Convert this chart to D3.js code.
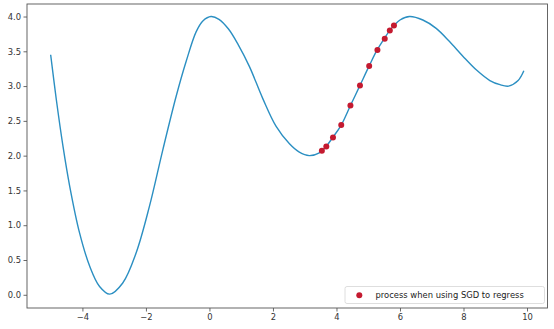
<!DOCTYPE html>
<html>
<head>
<meta charset="utf-8">
<script src="https://cdn.jsdelivr.net/npm/d3@7"></script>
<style>
  html, body { margin: 0; padding: 0; background: #fff; }
  svg { display: block; }
  text { font-family: "DejaVu Sans", sans-serif; }
</style>
</head>
<body>
<svg id="chart" width="554" height="329"></svg>
<script>
// Curve values
const curveX = [-5.0, -4.82, -4.61, -4.40, -4.09, -3.77, -3.46, -3.14, -2.73, -2.31, -1.89, -1.47, -1.05, -0.73, -0.42, -0.2, 0.05,
  0.3, 0.6, 0.9, 1.26, 1.68, 2.10, 2.52, 2.83, 3.14, 3.46, 3.67, 3.88, 4.15, 4.44, 4.74, 5.03, 5.28, 5.50, 5.68, 5.81, 6.0,
  6.30, 6.72, 7.14, 7.56, 7.98, 8.41, 8.83, 9.15, 9.42, 9.72, 9.90];
const curveY = [3.45, 2.80, 2.13, 1.56, 0.89, 0.41, 0.12, 0.01, 0.17, 0.60, 1.27, 2.08, 2.85, 3.36, 3.78, 3.94, 4.00,
  3.96, 3.82, 3.60, 3.28, 2.82, 2.42, 2.17, 2.05, 2.00, 2.04, 2.13, 2.26, 2.44, 2.72, 3.01, 3.29, 3.52, 3.68, 3.80, 3.87, 3.95,
  4.00, 3.95, 3.83, 3.64, 3.43, 3.23, 3.08, 3.02, 3.00, 3.08, 3.22];

// SGD process points
const sgdX = [3.54, 3.68, 3.89, 4.15, 4.44, 4.74, 5.03, 5.29, 5.52, 5.68, 5.81];
const sgdY = [2.07, 2.13, 2.26, 2.44, 2.72, 3.01, 3.29, 3.52, 3.68, 3.80, 3.87];

const xTicks = [-4, -2, 0, 2, 4, 6, 8, 10];
const yTicks = [0.0, 0.5, 1.0, 1.5, 2.0, 2.5, 3.0, 3.5, 4.0];
const legendLabel = "process when using SGD to regress";

const svg = d3.select("#chart");
const L = 27, R = 547.5, T = 4, B = 308;

const x = d3.scaleLinear().domain([-5.745, 10.645]).range([L, R]);
const y = d3.scaleLinear().domain([-0.19, 4.18]).range([B, T]);

const fmtX = d => (d < 0 ? "\u2212" + Math.abs(d) : String(d));
const fmtY = d => d.toFixed(1);

// Curve
const pts = curveX.map((v, i) => [v, curveY[i]]);
const line = d3.line().x(d => x(d[0])).y(d => y(d[1])).curve(d3.curveCatmullRom.alpha(0.5));
svg.append("path").attr("d", line(pts))
  .attr("fill", "none").attr("stroke", "#2b8fc2").attr("stroke-width", 1.4);

// SGD points
svg.append("g").selectAll("circle").data(sgdX.map((v, i) => [v, sgdY[i]])).join("circle")
  .attr("cx", d => x(d[0])).attr("cy", d => y(d[1])).attr("r", 3)
  .attr("fill", "#c41a30");

// Axes
const xAxis = d3.axisBottom(x).tickValues(xTicks).tickFormat(fmtX).tickSize(3.5).tickPadding(2.5);
const yAxis = d3.axisLeft(y).tickValues(yTicks).tickFormat(fmtY).tickSize(3.5).tickPadding(2.5);

const gx = svg.append("g").attr("transform", `translate(0,${B})`).call(xAxis);
const gy = svg.append("g").attr("transform", `translate(${L},0)`).call(yAxis);
[gx, gy].forEach(g => {
  g.select(".domain").remove();
  g.selectAll("line").attr("stroke", "#444").attr("stroke-width", 0.8);
  g.selectAll("text").attr("fill", "#333").style("font-size", "8.4px").style("font-family", "DejaVu Sans, sans-serif");
});

// Frame
svg.append("rect").attr("x", L).attr("y", T).attr("width", R - L).attr("height", B - T)
  .attr("fill", "none").attr("stroke", "#555").attr("stroke-width", 0.9);

// Legend
const lg = svg.append("g");
lg.append("rect").attr("x", 345).attr("y", 286.5).attr("width", 199.5).attr("height", 17)
  .attr("rx", 2).attr("fill", "#fff").attr("fill-opacity", 0.8).attr("stroke", "#d5d5d5").attr("stroke-width", 0.8);
lg.append("circle").attr("cx", 359.3).attr("cy", 295.3).attr("r", 3).attr("fill", "#c41a30");
lg.append("text").attr("x", 375.5).attr("y", 298.4).text(legendLabel)
  .attr("fill", "#222").style("font-size", "8.4px");
</script>
</body>
</html>
